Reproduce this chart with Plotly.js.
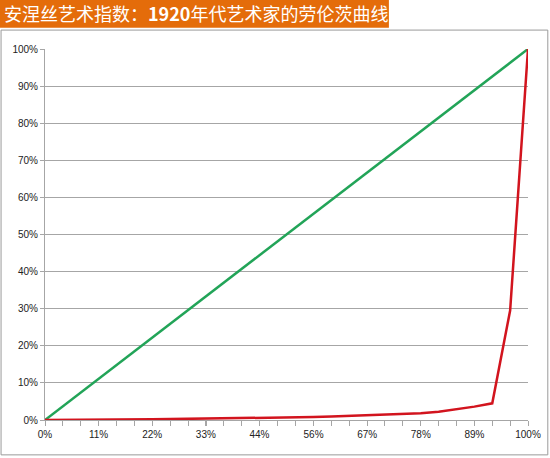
<!DOCTYPE html>
<html>
<head>
<meta charset="utf-8">
<script src="https://cdn.plot.ly/plotly-3.0.1.min.js"></script>
<style>
  html, body { margin: 0; padding: 0; background: #fff; }
  #chart { width: 550px; height: 458px; }
</style>
</head>
<body>
<div id="chart"></div>
<script>
// 人口累计份额（28个点，每格 1/27）
var popShare = [0, 3.7, 7.4, 11.1, 14.8, 18.5, 22.2, 25.9, 29.6, 33.3, 37.0, 40.7, 44.4, 48.1,
                51.9, 55.6, 59.3, 63.0, 66.7, 70.4, 74.1, 77.8, 81.5, 85.2, 88.9, 92.6, 96.3, 100];
// 绝对平等线
var equality = [0, 3.7, 7.4, 11.1, 14.8, 18.5, 22.2, 25.9, 29.6, 33.3, 37.0, 40.7, 44.4, 48.1,
                51.9, 55.6, 59.3, 63.0, 66.7, 70.4, 74.1, 77.8, 81.5, 85.2, 88.9, 92.6, 96.3, 100];
// 劳伦茨曲线（收入累计份额）
var lorenz = [0, 0, 0, 0.05, 0.1, 0.15, 0.2, 0.25, 0.3, 0.35, 0.4, 0.45, 0.55, 0.6,
              0.7, 0.8, 0.95, 1.1, 1.25, 1.4, 1.6, 1.85, 2.2, 2.8, 3.6, 4.5, 29.5, 100];
// 横轴标签
var xTickVals = [0, 11.1, 22.2, 33.3, 44.4, 55.6, 66.7, 77.8, 88.9, 100];
var xTickText = ['0%', '11%', '22%', '33%', '44%', '56%', '67%', '78%', '89%', '100%'];
var yTickVals = [0, 10, 20, 30, 40, 50, 60, 70, 80, 90, 100];
var yTickText = ['0%', '10%', '20%', '30%', '40%', '50%', '60%', '70%', '80%', '90%', '100%'];

var titleText = '安涅丝艺术指数：<b>1920</b>年代艺术家的劳伦茨曲线';

var data = [
  {
    x: popShare, y: equality, type: 'scatter', mode: 'lines',
    line: { color: '#22a458', width: 2.5 }, hoverinfo: 'skip'
  },
  {
    x: popShare, y: lorenz, type: 'scatter', mode: 'lines',
    line: { color: '#d2141e', width: 2.5 }, hoverinfo: 'skip'
  }
];

var grey = '#a6a6a6';
var layout = {
  width: 550,
  height: 458,
  margin: { l: 45, r: 22, t: 49, b: 38 },
  paper_bgcolor: '#ffffff',
  plot_bgcolor: '#ffffff',
  showlegend: false,
  font: { family: 'Liberation Sans, Arial, sans-serif', size: 10, color: '#222' },
  xaxis: {
    range: [0, 100],
    tickmode: 'array', tickvals: xTickVals, ticktext: xTickText,
    ticks: 'outside', ticklen: 5, tickcolor: grey,
    minor: { tickmode: 'linear', tick0: 0, dtick: 100 / 27, ticks: 'outside', ticklen: 5, tickcolor: grey, showgrid: false },
    showgrid: false, zeroline: false,
    showline: true, linecolor: grey, linewidth: 1,
    fixedrange: true
  },
  yaxis: {
    range: [0, 100],
    tickmode: 'array', tickvals: yTickVals, ticktext: yTickText,
    ticks: 'outside', ticklen: 4, tickcolor: grey,
    showgrid: true, gridcolor: grey, gridwidth: 1,
    zeroline: false,
    showline: true, linecolor: grey, linewidth: 1,
    fixedrange: true
  },
  shapes: [
    // 图表外框
    { type: 'rect', xref: 'paper', yref: 'paper', x0: -0.091, x1: 1.041, y0: -0.094, y1: 1.051,
      line: { color: '#9a9a9a', width: 1 }, fillcolor: 'rgba(0,0,0,0)', layer: 'below' },
    // 标题橙色底
    { type: 'rect', xref: 'paper', yref: 'paper', x0: -0.095, x1: 0.712, y0: 1.057, y1: 1.14,
      line: { width: 0 }, fillcolor: '#e46c0a', layer: 'above' }
  ],
  annotations: [
    { xref: 'paper', yref: 'paper', x: -0.088, y: 1.097, xanchor: 'left', yanchor: 'middle',
      showarrow: false, text: titleText,
      font: { family: 'Noto Sans CJK SC, sans-serif', size: 18, color: '#ffffff' } }
  ]
};

Plotly.newPlot('chart', data, layout, { staticPlot: true, displayModeBar: false });
</script>
</body>
</html>
